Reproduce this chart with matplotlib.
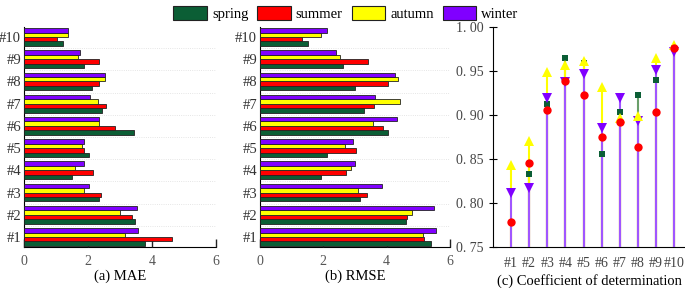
import numpy as np
import matplotlib
matplotlib.use("Agg")
import matplotlib.pyplot as plt
from matplotlib.patches import Patch

plt.rcParams['font.family'] = ['Liberation Serif', 'DejaVu Serif']

labels = ['#1', '#2', '#3', '#4', '#5', '#6', '#7', '#8', '#9', '#10']
seasons = ['spring', 'summer', 'autumn', 'winter']
colors = ['#0b5e35', '#ff0000', '#ffff00', '#8000ff']

mae_spring = [3.77, 3.46, 2.33, 1.51, 2.02, 3.43, 2.45, 2.14, 1.89, 1.21]
mae_summer = [4.62, 3.37, 2.40, 2.16, 1.89, 2.85, 2.57, 2.35, 2.34, 1.03]
mae_autumn = [3.16, 3.01, 1.87, 1.60, 1.80, 2.33, 2.32, 2.54, 1.69, 1.38]
mae_winter = [3.55, 3.54, 2.04, 1.87, 1.89, 2.34, 2.06, 2.52, 1.74, 1.38]

rmse_spring = [5.40, 4.61, 3.17, 1.93, 2.12, 4.05, 3.27, 2.99, 2.62, 1.52]
rmse_summer = [5.17, 4.63, 3.37, 2.72, 3.04, 3.87, 3.60, 4.04, 3.41, 1.33]
rmse_autumn = [5.14, 4.80, 3.08, 2.86, 2.67, 3.56, 4.41, 4.36, 2.53, 1.92]
rmse_winter = [5.57, 5.48, 3.85, 2.99, 2.94, 4.33, 3.62, 4.25, 2.41, 2.12]

r2_spring = [0.745, 0.833, 0.912, 0.965, 0.959, 0.856, 0.903, 0.923, 0.940, 0.976]
r2_summer = [0.778, 0.846, 0.906, 0.939, 0.923, 0.875, 0.892, 0.864, 0.903, 0.976]
r2_autumn = [0.843, 0.871, 0.949, 0.957, 0.961, 0.932, 0.897, 0.899, 0.965, 0.979]
r2_winter = [0.811, 0.817, 0.919, 0.937, 0.947, 0.885, 0.919, 0.893, 0.951, 0.972]

fig = plt.figure(figsize=(6.85, 2.88), dpi=100)
W, H = 685, 288

def axrect(l, t, r, b):
    return [l / W, 1 - b / H, (r - l) / W, (b - t) / H]

ax1 = fig.add_axes(axrect(24, 27, 216, 247))
ax2 = fig.add_axes(axrect(260, 27, 450, 247))
ax3 = fig.add_axes(axrect(493, 27, 685, 247))

y = np.arange(1, 11)
h = 0.2

def barpanel(ax, data, caption):
    for i, (vals, c) in enumerate(zip(data, colors)):
        ax.barh(y + (i - 1.5) * h, vals, height=h, color=c,
                edgecolor='#222222', linewidth=0.6, zorder=3)
    ax.set_xlim(0, 6)
    ax.set_ylim(0.55, 10.45)
    ax.set_xticks([0, 2, 4, 6])
    ax.set_yticks(y)
    ax.set_yticklabels(labels)
    for yy in np.arange(1.5, 10.5, 1.0):
        ax.axhline(yy, color='#dddddd', lw=0.6, ls=':', zorder=1)
    ax.spines['top'].set_visible(False)
    ax.spines['right'].set_visible(False)
    ax.tick_params(axis='x', direction='in', length=6, width=1, labelsize=10,
                   pad=6, colors='#222222', labelcolor='#555555')
    ax.tick_params(axis='y', length=0, labelsize=10.5, pad=2, labelcolor='#333333')
    for t in ax.get_xticklines():
        t.set_zorder(5)
    ax.set_axisbelow(False)
    ax.set_xlabel(caption, fontsize=10.5, labelpad=1)

barpanel(ax1, [mae_spring, mae_summer, mae_autumn, mae_winter], '(a) MAE')
barpanel(ax2, [rmse_spring, rmse_summer, rmse_autumn, rmse_winter], '(b) RMSE')

# panel c
r2 = [r2_spring, r2_summer, r2_autumn, r2_winter]
stem_colors = ['#6a9f6a', '#ff6060', '#ffff00', '#a056ff']
markers = ['s', 'o', '^', 'v']
msizes = [5, 6, 7, 7]
marker_z = [10, 13, 12, 11]
for i in range(4):
    ax3.vlines(y, 0.75, r2[i], color=stem_colors[i], lw=1.5, zorder=2 + i)
for i in range(4):
    ax3.plot(y, r2[i], ls='none', marker=markers[i], color=colors[i],
             markersize=msizes[i], markeredgewidth=0, zorder=marker_z[i])
ax3.set_xlim(0, 10.6)
ax3.set_ylim(0.75, 1.0)
ax3.set_yticks([0.75, 0.80, 0.85, 0.90, 0.95, 1.00])
ax3.set_yticklabels(['0. 75', '0. 80', '0. 85', '0. 90', '0. 95', '1. 00'])
ax3.set_xticks(y)
ax3.set_xticklabels(labels)
ax3.spines['top'].set_visible(False)
ax3.spines['right'].set_visible(False)
ax3.tick_params(axis='y', direction='inout', length=6, labelsize=10, labelcolor='#444444')
ax3.tick_params(axis='x', length=0, labelsize=10, pad=7, labelcolor='#444444')
ax3.set_xlabel('(c) Coefficient of determination', fontsize=10.5, labelpad=3)

handles = [Patch(facecolor=c, edgecolor='#222222', linewidth=0.8, label=s)
           for s, c in zip(seasons, colors)]
fig.legend(handles=handles, loc='upper center', bbox_to_anchor=(0.505, 1.025),
           ncol=4, frameon=False, fontsize=10.5, handlelength=2.3, handleheight=1.15,
           handletextpad=0.35, columnspacing=0.6)

fig.savefig('out.png', dpi=100)
